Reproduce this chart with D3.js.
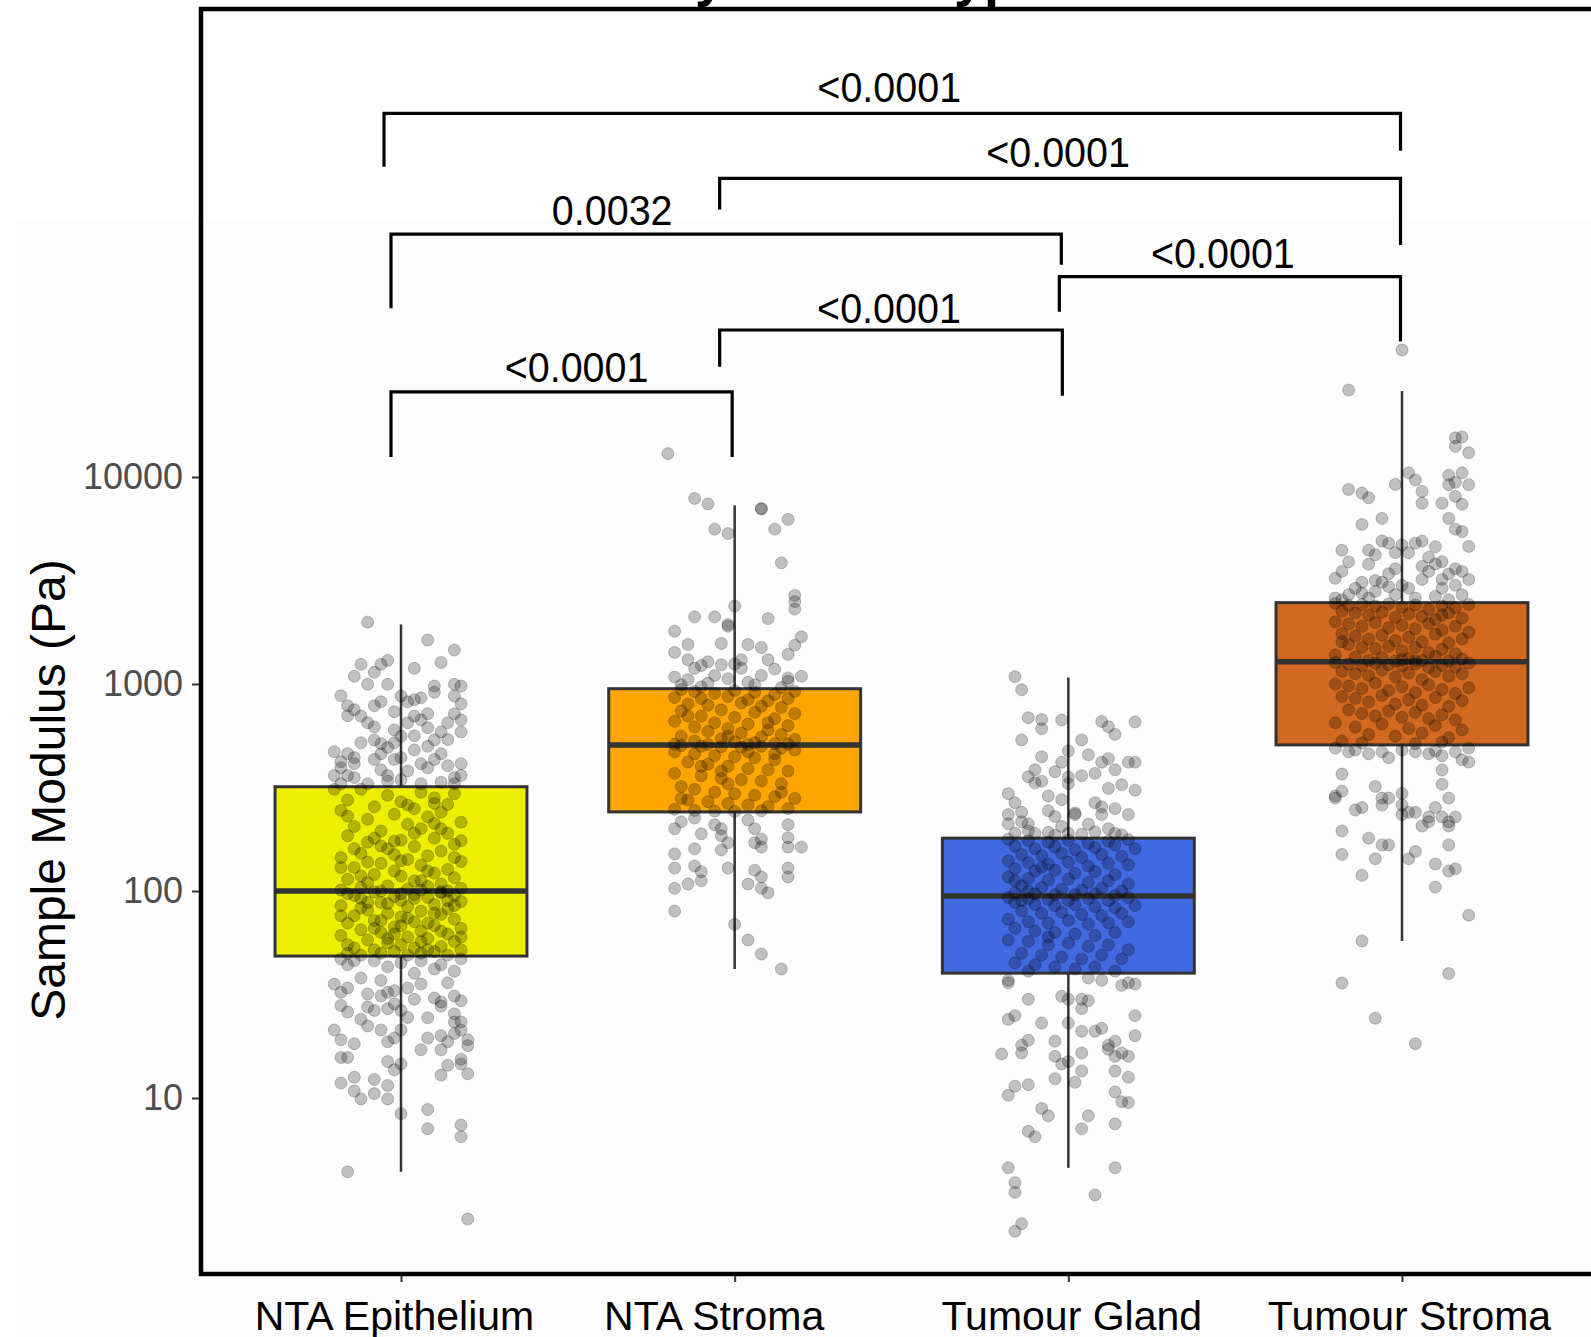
<!DOCTYPE html>
<html><head><meta charset="utf-8">
<script src="https://cdn.jsdelivr.net/npm/d3@7"></script>
<style>html,body{margin:0;padding:0;background:#fff;} svg{display:block;}</style>
</head><body>
<script>
// ---------------- DATA ----------------
const categories = ["NTA Epithelium", "NTA Stroma", "Tumour Gland", "Tumour Stroma"];
const boxColors = ["#EEEE00", "#FFA500", "#4169E1", "#D2691E"];
const q1 = [48.5, 241, 40.1, 508];
const medians = [100, 508, 94.6, 1282];
const q3 = [319, 949, 180, 2472];
const whiskerLow = [4.4, 42, 4.6, 57.4];
const whiskerHigh = [1940, 7300, 1075, 26000];
const yTickValues = [10, 100, 1000, 10000];
const titleText = "Modulus by Tissue Type";
const yTitle = "Sample Modulus (Pa)";

// jittered observations: [jitter (-10..10), modulus in Pa]
const ptsNTAEpithelium = [
[-5,1990],[4,1630],[8,1460],[2,1190],[6,1270],[-6,1245],[-3,1245],[-2,1300],[-4,1140],[-7,1090],[-5,997],[-2,997],[-9,877],[-8,785],[-8,703],[-7,751],[-4,785],[-3,820],[-1,735],[0,875],[1,820],[2,840],[3,857],[5,977],[5,913],[8,997],[9,977],[8,875],[9,802],[8,718],[9,671],[9,587],[4,718],[3,671],[4,615],[6,587],[5,537],[2,562],[-10,471],[-9,421],[-8,461],[-7,441],[-7,412],[-10,361],[-9,394],[-4,537],[-3,515],[-2,493],[-1,432],[0,441],[-4,432],[-3,385],[-2,361],[0,345],[3,412],[4,394],[5,432],[7,403],[9,412],[8,353],[9,361],[8,330],[-10,310],[-9,330],[-8,361],[-7,353],
[1,650],[-1,600],[2,480],[-5,650],[-6,520],[6,460],[7,540],[-1,520],[1,380],[-2,340],[3,330],[-5,330],[6,335],[-4,620],[2,700],[0,560],[7,650],[-6,700],[4,500],[-3,460],
[-6,310],[3,300],[8,295],[-2,290],[5,282],[-8,275],[0,270],[7,262],[-4,255],[2,250],[-9,245],[6,240],[-1,235],[4,228],[-5,222],[9,215],[1,210],[-7,205],[3,200],[-3,195],[7,190],[-8,185],[5,180],[0,176],[-5,172],[8,168],[2,164],[-2,160],[6,156],[-6,152],[4,148],[-9,145],[1,142],[9,139],[-3,136],[3,133],[-7,130],[7,127],[-1,125],[5,122],[-4,120],[0,118],[8,116],[-8,114],[2,112],[-5,110],[6,108],[-2,106],[4,105],[-6,104],[9,103],[1,102],[-9,101],[3,101],[-3,100],[7,100],[-1,174],[5,212],[-7,160],[0,140],[-4,180],[6,200],[-8,230],[1,260],[8,145],[-3,165],[4,125],[-6,118],[2,190],[-1,150],[9,175],[-9,130],[5,265],[-5,138],[3,112],
[-4,99],[6,98],[-8,97],[2,96],[8,95],[-1,94],[4,93],[-6,92],[0,90],[9,89],[-3,88],[5,86],[-9,85],[1,84],[7,82],[-5,81],[3,80],[-2,78],[6,77],[-7,76],[0,75],[8,73],[-4,72],[2,71],[-8,70],[5,68],[-1,67],[9,66],[-6,65],[3,64],[-3,63],[7,62],[-9,61],[1,60],[4,59],[-5,58],[8,57],[-2,56],[0,55],[6,54],[-7,53],[2,53],[-4,52],[9,52],[5,51],[-1,51],[-8,50],[3,50],[7,49],[-6,49],[1,49],[-3,50],[4,70],[-5,88],[6,64],[0,97],[-9,76],[8,85],[-2,59],[2,92],[-7,95],[5,78],[-3,72],[7,90],[-1,62],[3,57],[-6,83],[9,60],[-4,66],[1,74],[-8,55],[6,99],[-2,87],[4,52],[0,68],
[-9,47],[-7,46],[-4,46],[0,45],[3,46],[6,44],[9,47],[-8,44],[-2,43],[5,42],[8,41],[-10,35.5],[-9,32.4],[-8,34],[-5,31.8],[-3,31.1],[-2,32.4],[-1,33],[1,34],[3,35.5],[6,29.1],[5,30.4],[8,31.1],[9,29.5],[6,27.8],[8,25.5],[8,23.3],[9,23.3],[-9,28],[-8,26],[-5,27.5],[-4,26.5],[-2,27],[-1,28.5],[0,26.5],[-10,21.3],[-9,19.1],[-7,18.3],[-5,22.3],[-3,21.3],[-2,18.7],[-1,19.5],[0,21.3],[3,17.1],[4,24.4],[4,19.5],[6,20],[7,18.7],[8,20.5],[9,21.3],[10,19.1],[10,17.9],[-9,15.7],[-8,15.7],[-7,12.6],[-4,12.3],[-2,11.5],[-2,15],[0,14.6],[-1,13.7],[6,17.1],[7,14.4],[9,15.4],[9,14.6],[10,13.1],[-9,11.8],[-7,10.8],[-6,9.9],[-4,10.5],[-2,9.9],[0,8.4],[4,8.8],[4,7.1],[9,6.5],[9,7.4],[6,12.9],[-8,4.4],[10,2.6],[-6,38],[2,40],[-3,37],[7,36],[-6,24],[1,24.5],[2,30]
];
const ptsNTAStroma = [
[-10,12970],[-6,7870],[-4,7410],[4,7050],[4,7000],[8,6240],[-3,5600],[-1,5330],[6,5600],[7,3850],[9,2680],[9,2500],[9,2300],[0,2380],[-6,2110],[-3,2110],[-1,1940],[-1,1900],[5,2070],[10,1690],[-9,1800],[-7,1550],[-9,1420],[-2,1570],[2,1550],[4,1500],[9,1540],[8,1390],
[-7,1310],[-6,1190],[-5,1230],[-4,1280],[-3,1100],[-2,1240],[0,1250],[1,1310],[1,1190],[5,1310],[6,1180],[8,1070],[10,1090],[8,1030],[-7,1050],[-9,1080],[-4,1010],[2,1020],[4,1100],[-1,1060],[3,990],[-5,970],[7,960],[-8,990],
[-8,940],[-6,920],[-3,900],[0,930],[3,910],[6,890],[9,920],[-9,860],[-5,850],[-1,870],[2,840],[5,830],[8,850],[-7,800],[-4,790],[1,810],[4,780],[7,770],[-2,750],[-8,740],[3,730],[9,720],[-5,700],[0,690],[6,680],[-9,660],[-3,650],[2,640],[8,630],[-6,620],[-1,610],[5,600],[-4,590],[1,580],[7,570],[-8,560],[4,555],[-2,545],[9,540],[-6,530],[0,525],[3,520],[6,515],[-9,512],[-4,510],[2,510],[8,511],[-7,700],[5,650],[-1,560],
[-8,505],[-5,500],[-2,498],[1,495],[4,500],[7,490],[9,480],[-9,470],[-6,460],[-3,450],[0,445],[3,440],[6,430],[-7,420],[-4,410],[-1,400],[2,390],[5,385],[8,380],[-9,370],[-5,360],[-2,350],[1,345],[4,340],[7,330],[-8,320],[-6,310],[-3,300],[0,295],[3,290],[6,285],[9,280],[-7,275],[-4,270],[-1,265],[2,260],[5,255],[8,250],[-9,248],[-6,245],[-3,243],[0,242],[4,244],[-5,400],[6,460],[-1,330],[2,470],[-8,280],[-2,380],[7,300],
[-8,216],[-9,200],[-6,225],[-3,209],[-2,200],[-2,185],[-1,171],[-2,158],[2,220],[3,200],[3,171],[4,163],[4,178],[8,209],[8,181],[8,163],[10,163],[-5,189],[-6,160],[-9,151],[-9,129],[-9,103],[-7,108],[-6,132],[-5,124],[-5,112],[-1,129],[2,108],[3,126],[4,117],[4,103],[5,98],[8,129],[8,117],[-9,80],[0,69],[2,58],[4,49.6],[7,42]
];
const ptsTumourGland = [
[-8,1085],[-7,937],[-6,687],[-4,673],[-4,608],[-7,537],[-1,670],[5,659],[6,621],[7,571],[10,656],[-4,445],[-5,385],[-6,356],[-5,333],[-4,339],[-2,377],[-1,419],[0,475],[0,355],[2,537],[3,455],[5,419],[4,370],[6,436],[7,385],[9,419],[10,419],[6,313],[8,326],[10,307],[2,360],[0,330],[-9,295],[-8,267],[-9,234],[-9,211],[-7,216],[-6,211],[-3,288],[-3,244],[-2,229],[-1,276],[1,234],[1,238],[4,267],[5,255],[5,234],[7,250],[9,234],[-8,190],[-6,195],[-5,190],[-3,192],[-2,186],[0,190],[2,188],[4,193],[7,190],[8,187],[-7,240],[3,210],[6,200],[-1,205],
[-9,178],[-6,175],[-3,172],[0,176],[3,170],[6,174],[9,177],[-8,165],[-5,160],[-2,163],[1,158],[4,162],[7,167],[10,160],[-7,150],[-4,148],[-1,152],[2,145],[5,150],[8,147],[-9,140],[-6,137],[-3,135],[0,138],[3,132],[6,136],[9,134],[-8,128],[-5,125],[-2,126],[1,122],[4,124],[7,120],[-9,117],[-6,115],[-3,113],[0,114],[3,110],[6,112],[9,108],[-7,106],[-4,104],[-1,102],[2,101],[5,103],[8,100],[-8,98],[-5,97],[-2,96],[1,96],[4,97],[7,95],[-6,100],[-8,112],[-4,130],
[-9,93],[-6,92],[-3,91],[0,90],[3,92],[6,90],[9,93],[-8,88],[-5,86],[-2,85],[1,86],[4,84],[7,83],[10,85],[-7,80],[-4,78],[-1,79],[2,77],[5,76],[8,78],[-9,73],[-6,71],[-3,70],[0,72],[3,69],[6,70],[9,71],[-8,66],[-5,64],[-2,63],[1,62],[4,61],[7,63],[-9,58],[-6,57],[-3,55],[0,56],[3,54],[6,55],[9,52],[-7,50],[-4,49],[-1,48],[2,47],[5,49],[8,47],[-8,45],[-5,44],[-2,43],[1,42],[4,43],[7,41],[-6,41],[-7,90],[-3,60],
[-9,36],[-9,37],[-6,30],[-9,24],[-8,25],[-1,31],[0,30],[2,30],[3,29.5],[2,27],[3,38],[5,37],[8,35],[9,36],[10,35.5],[10,25],[10,20],[-4,23],[-6,19],[-7,18],[-7,16.5],[-10,16.3],[-2,18.8],[-2,15.9],[-1,14.6],[-2,12.4],[0,23],[0,15],[2,21],[2,16.5],[2,13.5],[1,11.9],[4,21],[5,21.7],[6,18],[6,17.2],[7,18.8],[7,15.9],[7,13.5],[9,15.9],[9,12.6],[8,16.5],[7,10.7],[8,9.6],[9,9.5],[-9,10.3],[-8,11.4],[-6,11.6],[-4,8.9],[-3,8.2],[-6,6.9],[-5,6.5],[2,7.1],[3,8.2],[7,7.5],[-9,4.6],[7,4.6],[-8,3.9],[-8,3.5],[4,3.4],[-7,2.47],[-8,2.27]
];
const ptsTumourStroma = [
[0,41100],[-8,26300],[8,15460],[9,15620],[8,14060],[10,13080],[-8,8710],[-6,8360],[-5,7940],[-1,9200],[1,10470],[2,9680],[3,8520],[3,7470],[7,10200],[7,9180],[9,10470],[8,9420],[10,9180],[8,8060],[6,7470],[9,7380],[7,6310],[8,5600],[9,5450],[-6,5900],[-3,6310],[10,4620],[-9,4430],[-8,3890],[-10,3240],[-9,3500],[-5,3790],[-5,4430],[-4,4210],[-3,4910],[-2,4790],[-1,4310],[-2,3410],[-4,3160],
[1,4310],[2,4790],[3,4900],[3,3700],[4,3500],[5,3800],[6,3900],[5,4600],[4,4100],[6,3200],[7,3400],[8,3600],[9,3500],[10,3200],[8,3000],[6,2900],[1,2900],[0,3000],[-2,2950],[-3,3100],[-4,2800],[-6,3100],[-7,2900],[-8,2700],[-10,2600],[-9,2550],[-5,2600],[-1,2700],[2,2600],[5,2650],[7,2550],[9,2700],[-6,2750],[3,3200],[-1,3600],[0,4700],
[-10,2450],[-8,2400],[-6,2420],[-4,2380],[-2,2440],[0,2350],[2,2410],[4,2300],[6,2380],[8,2330],[10,2420],[-9,2250],[-7,2200],[-5,2150],[-3,2220],[-1,2100],[1,2180],[3,2120],[5,2050],[7,2200],[9,2080],[-10,2000],[-8,1950],[-6,1900],[-4,1980],[-2,1870],[0,1920],[2,1850],[4,1960],[6,1820],[8,1900],[10,1780],[-9,1750],[-7,1700],[-5,1650],[-3,1720],[-1,1620],[1,1680],[3,1600],[5,1740],[7,1580],[9,1650],[-8,1550],[-6,1500],[-4,1480],[-2,1520],[0,1450],[2,1500],[4,1420],[6,1470],[8,1400],[-10,1380],[-7,1350],[-3,1340],[1,1330],[5,1360],[9,1320],[-5,1300],[-1,1290],[3,1300],[7,1290],[0,1310],[2,1295],[-9,1600],[6,2150],
[-10,1270],[-8,1250],[-6,1230],[-4,1260],[-2,1240],[0,1220],[2,1250],[4,1200],[6,1230],[8,1210],[10,1260],[-9,1150],[-7,1120],[-5,1100],[-3,1170],[-1,1080],[1,1130],[3,1050],[5,1150],[7,1090],[9,1120],[-10,1000],[-8,980],[-6,950],[-4,1010],[-2,930],[0,970],[2,910],[4,990],[6,940],[8,900],[10,960],[-9,870],[-7,850],[-5,820],[-3,880],[-1,800],[1,840],[3,790],[5,860],[7,780],[9,830],[-8,750],[-6,720],[-4,700],[-2,740],[0,690],[2,730],[4,680],[6,710],[8,670],[-10,650],[-7,620],[-3,640],[1,610],[5,630],[9,600],[-5,570],[-1,560],[3,580],[7,550],[-9,530],[-6,520],[2,515],[6,525],
[-10,490],[-8,470],[-7,480],[-5,460],[-3,470],[-2,440],[0,480],[2,470],[4,460],[5,475],[6,450],[8,470],[9,430],[10,490],[-9,367],[-9,303],[-10,288],[-10,281],[-7,246],[-6,253],[-4,320],[-3,281],[-3,260],[-2,281],[0,296],[0,234],[0,260],[1,240],[2,240],[3,206],[4,216],[5,253],[4,228],[6,228],[7,216],[7,206],[8,228],[6,328],[7,281],[6,384],[10,420],[-9,195],[-9,150],[-4,143],[-5,180],[-3,167],[-2,167],[1,143],[2,155],[5,135],[7,125],[8,128],[7,167],[-6,119],[5,104.5],[10,76.4],[-6,57.4],[-9,35.9],[7,39.9],[-4,24.3],[2,18.3]
];
const groupPoints = [ptsNTAEpithelium, ptsNTAStroma, ptsTumourGland, ptsTumourStroma];

// significance brackets (heights in Pa, as in ggpubr y.position)
const brackets = [
  {from:0, to:3, y:571000, leftEnd:315000, rightEnd:377000, label:"<0.0001"},
  {from:1, to:3, y:277000, leftEnd:196000, rightEnd:132000, label:"<0.0001"},
  {from:0, to:2, y:149000, leftEnd:65300,  rightEnd:106000, label:"0.0032"},
  {from:2, to:3, y:92900,  leftEnd:62900,  rightEnd:45100,  label:"<0.0001"},
  {from:1, to:2, y:51300,  leftEnd:34100,  rightEnd:24700,  label:"<0.0001"},
  {from:0, to:1, y:25800,  leftEnd:12500,  rightEnd:12500,  label:"<0.0001"}
];

// ---------------- LAYOUT / STYLE ----------------
const W = 1591, H = 1337;
const panel = {left: 201, top: 9, bottom: 1274, right: 1660};
const bracketNudge = [ // [left dx, right dx, label dx, label gap]
  [-17,-1.5,-3,11.5],[-15,-1.5,-2,11],[-10,-7,-114,9],[-9,-1.5,-7,8.4],[-15,-6,-2,6.7],[-10,-2.5,15,10]
];
const xLabelNudge = [-7, -21, 3, 7];
const FONT = "'Liberation Sans', Arial, Helvetica, sans-serif";

const svg = d3.select("body").append("svg")
  .attr("width", W).attr("height", H)
  .attr("font-family", FONT);

svg.append("rect").attr("width", W).attr("height", H).attr("fill", "#fff");
svg.append("rect").attr("x", 15).attr("y", 218).attr("width", W - 15).attr("height", H - 218).attr("fill", "#fdfdfd");

const x = d3.scalePoint().domain(categories).range([401, 1402]);
const step = x.step();
const boxW = 0.755 * step;
const jitterW = 0.2 * step;
const y = d3.scaleLog().domain([10, 10000]).range([1098, 477]);

// title (cut off at the top of the figure, as in the original)
svg.append("text").attr("x", 425).attr("y", -4)
  .attr("font-size", 54).attr("font-weight", "bold").attr("fill", "#000")
  .text(titleText);

// boxes
const boxG = svg.append("g");
categories.forEach((c, i) => {
  const cx = x(c);
  const g = boxG.append("g");
  g.append("line").attr("x1", cx).attr("x2", cx)
    .attr("y1", y(whiskerHigh[i])).attr("y2", y(q3[i]))
    .attr("stroke", "#333").attr("stroke-width", 2.5);
  g.append("line").attr("x1", cx).attr("x2", cx)
    .attr("y1", y(q1[i])).attr("y2", y(whiskerLow[i]))
    .attr("stroke", "#333").attr("stroke-width", 2.5);
  g.append("rect").attr("x", cx - boxW / 2).attr("width", boxW)
    .attr("y", y(q3[i])).attr("height", y(q1[i]) - y(q3[i]))
    .attr("fill", boxColors[i]).attr("stroke", "#333").attr("stroke-width", 3);
  g.append("line").attr("x1", cx - boxW / 2).attr("x2", cx + boxW / 2)
    .attr("y1", y(medians[i])).attr("y2", y(medians[i]))
    .attr("stroke", "#333").attr("stroke-width", 5.5);
});

// jittered points
const ptG = svg.append("g");
categories.forEach((c, i) => {
  ptG.selectAll(null).data(groupPoints[i]).join("circle")
    .attr("cx", d => x(c) + d[0] / 10 * jitterW)
    .attr("cy", d => y(d[1]))
    .attr("r", 6)
    .attr("fill", "#000").attr("fill-opacity", 0.24)
    .attr("stroke", "#000").attr("stroke-opacity", 0.22).attr("stroke-width", 1);
});

// panel border
svg.append("rect").attr("x", panel.left).attr("y", panel.top)
  .attr("width", panel.right - panel.left).attr("height", panel.bottom - panel.top)
  .attr("fill", "none").attr("stroke", "#000").attr("stroke-width", 4.5);

// y axis
const yAxis = svg.append("g").attr("transform", `translate(${panel.left - 2},0)`)
  .call(d3.axisLeft(y).tickValues(yTickValues).tickFormat(d3.format("d")).tickSize(7).tickPadding(9));
yAxis.select(".domain").remove();
yAxis.selectAll(".tick line").attr("stroke", "#333").attr("stroke-width", 2);
yAxis.selectAll(".tick text").attr("font-size", 36).attr("fill", "#4d4d4d").attr("font-family", FONT);

// x axis
const xAxis = svg.append("g").attr("transform", `translate(0,${panel.bottom + 2})`)
  .call(d3.axisBottom(x).tickSize(6));
xAxis.select(".domain").remove();
xAxis.selectAll(".tick line").attr("stroke", "#333").attr("stroke-width", 2);
xAxis.selectAll(".tick text")
  .attr("y", 54).attr("dy", 0)
  .attr("x", (d, i) => xLabelNudge[i])
  .attr("font-size", 41).attr("fill", "#000").attr("font-family", FONT);

// y title
svg.append("text").attr("transform", "translate(65,790) rotate(-90)")
  .attr("text-anchor", "middle").attr("font-size", 48).attr("fill", "#000")
  .text(yTitle);

// brackets
const brG = svg.append("g");
brackets.forEach((b, k) => {
  const nd = bracketNudge[k];
  const x1 = x(categories[b.from]) + nd[0];
  const x2 = x(categories[b.to]) + nd[1];
  const yb = y(b.y);
  brG.append("path")
    .attr("d", `M${x1},${y(b.leftEnd)}V${yb}H${x2}V${y(b.rightEnd)}`)
    .attr("fill", "none").attr("stroke", "#000").attr("stroke-width", 3.2);
  brG.append("text")
    .attr("transform", `translate(${(x1 + x2) / 2 + nd[2]},${yb - nd[3]}) scale(0.94,1)`)
    .attr("text-anchor", "middle").attr("font-size", 42).attr("fill", "#000")
    .text(b.label);
});
</script>
</body></html>
